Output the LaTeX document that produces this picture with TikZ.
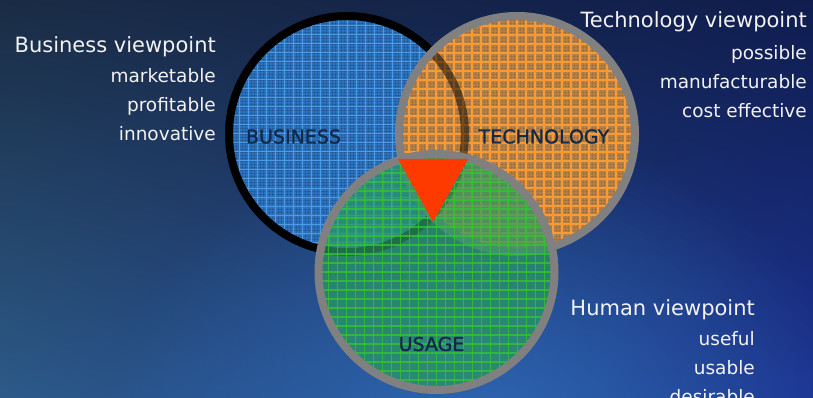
\documentclass[tikz,border=0pt]{standalone}
\usepackage{fontspec}
\setmainfont{DejaVu Sans}
\newfontfamily\labfont[FakeBold=1.2]{DejaVu Sans}
\usetikzlibrary{fadings,shadings}
\definecolor{bgUL}{HTML}{1A2C44}
\definecolor{bgUR}{HTML}{0F1D4E}
\definecolor{bgLL}{HTML}{2C5A88}
\definecolor{bgLR}{HTML}{1C3292}
\definecolor{glow}{HTML}{3070B8}
\definecolor{bizfill}{HTML}{2C74C0}
\definecolor{bizline}{HTML}{4E9AE4}
\definecolor{techfill}{HTML}{B88248}
\definecolor{techline}{HTML}{F89A35}
\definecolor{usefill}{HTML}{2A9A62}
\definecolor{useline}{HTML}{34C234}
\definecolor{ringgray}{HTML}{808080}
\definecolor{labnavy}{HTML}{12294A}
\definecolor{trired}{HTML}{FF3A00}
\definecolor{txtwhite}{HTML}{F2F2F2}
\tikzfading[name=softglow, inner color=transparent!0, outer color=transparent!100]
\tikzset{
  ringbiz/.style={draw=black, line width=8},
  ringgr/.style={draw=ringgray, line width=8},
  circlab/.style={inner sep=0, text=labnavy, font=\labfont\fontsize{19}{22}\selectfont},
  vhead/.style={inner sep=0, anchor=base east, text=txtwhite, font=\fontsize{21}{24}\selectfont},
  vitem/.style={inner sep=0, anchor=base east, text=txtwhite, font=\fontsize{18.5}{22}\selectfont},
  texture/.style={draw=black, opacity=0.13, line width=0.6},
}
\begin{document}
\begin{tikzpicture}[x=1pt,y=-1pt]
\useasboundingbox (0,0) rectangle (813,398);
\clip (0,0) rectangle (813,398);
% background
\shade[upper left=bgUL, upper right=bgUR, lower left=bgLL, lower right=bgLR] (0,0) rectangle (813,398);
\fill[glow, path fading=softglow, fill opacity=0.8] (480,430) ellipse (380 and 300);

\coordinate (cB) at (347,134);
\coordinate (cT) at (517,134);
\coordinate (cU) at (436.5,272);

% business circle
\begin{scope}[shift={(347,134)}]
  \begin{scope}
    \clip (0,0) circle (118);
    \fill[bizfill] (0,0) circle (118);
    \foreach \i in {-40,...,40} {
      \draw[texture] (\i*3,-120) -- (\i*3,120);
      \draw[texture] (-120,\i*3) -- (120,\i*3);
    }
    \foreach \i in {-13,...,13} {
      \draw[bizline, line width=1] (\i*9,-120) -- (\i*9,120);
      \draw[bizline, line width=1] (-120,\i*9) -- (120,\i*9);
    }
  \end{scope}
  \draw[ringbiz] (0,0) circle (118);
\end{scope}

% technology circle
\begin{scope}[shift={(517,134)}]
  \begin{scope}
    \clip (0,0) circle (118);
    \fill[techfill] (0,0) circle (118);
    \foreach \i in {-40,...,40} {
      \draw[texture, opacity=0.08] (\i*3,-120) -- (\i*3,120);
      \draw[texture, opacity=0.08] (-120,\i*3) -- (120,\i*3);
    }
    \foreach \i in {-13,...,13} {
      \draw[techline, line width=1.8] (\i*9,-120) -- (\i*9,120);
      \draw[techline, line width=1.8] (-120,\i*9) -- (120,\i*9);
    }
  \end{scope}
\end{scope}
\begin{scope}
  \clip (cT) circle (118);
  \draw[ringbiz, opacity=0.5] (cB) circle (118);
\end{scope}
\draw[ringgr] (cT) circle (118);

% usage circle
\begin{scope}[shift={(436.5,272)}]
  \begin{scope}
    \clip (0,0) circle (118);
    \fill[usefill, fill opacity=0.72] (0,0) circle (118);
    \foreach \i in {-13,...,13} {
      \draw[useline, line width=1.3, opacity=0.8] (\i*9,-120) -- (\i*9,120);
      \draw[useline, line width=1.3, opacity=0.8] (-120,\i*9) -- (120,\i*9);
    }
  \end{scope}
\end{scope}
\draw[ringgr] (cU) circle (118);

% centre triangle
\coordinate (t1) at (398,159);
\coordinate (t2) at (468,159);
\coordinate (t3) at (433,222);
\fill[trired] (t1) -- (t2) -- (t3) -- cycle;

% circle labels
\node[circlab] (lbiz) at (293.5,136.5) {BUSINESS};
\node[circlab] (ltech) at (544,136.5) {TECHNOLOGY};
\node[circlab] (luse) at (431.5,344) {USAGE};

% viewpoint texts
\node[vhead] (hbiz) at (216,52.5) {Business viewpoint};
\node[vitem] (b1) at (216,82.5) {marketable};
\node[vitem] (b2) at (216,111.5) {profitable};
\node[vitem] (b3) at (216,140.5) {innovative};

\node[vhead] (htech) at (807,28) {Technology viewpoint};
\node[vitem] (t1l) at (807,60) {possible};
\node[vitem] (t2l) at (807,88.5) {manufacturable};
\node[vitem] (t3l) at (807,117.5) {cost effective};

\node[vhead] (hhum) at (755,315) {Human viewpoint};
\node[vitem] (h1) at (755,345) {useful};
\node[vitem] (h2) at (755,374) {usable};
\node[vitem] (h3) at (755,403) {desirable};
\end{tikzpicture}
\end{document}
